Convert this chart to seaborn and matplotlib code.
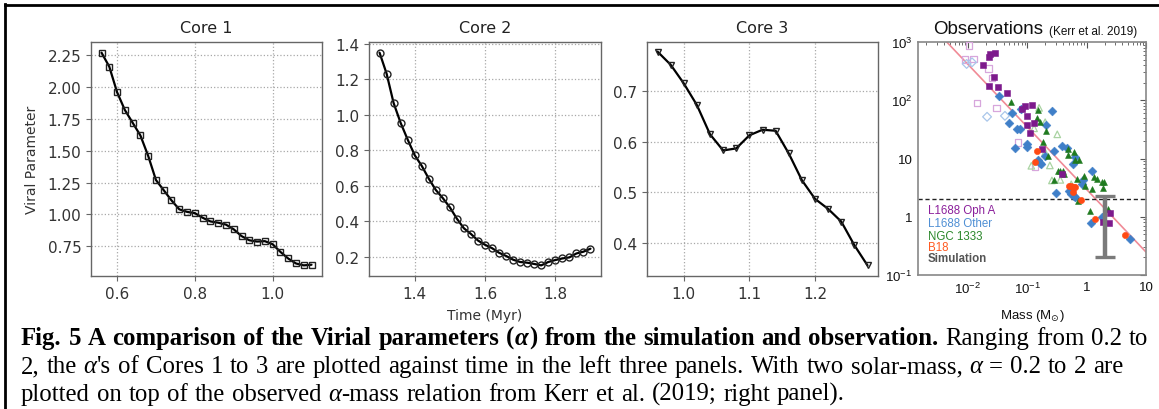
import re
import numpy as np
import pandas as pd
import matplotlib
matplotlib.use("Agg")
import matplotlib.pyplot as plt
import seaborn as sns
from matplotlib.lines import Line2D
from matplotlib.ticker import MultipleLocator, LogLocator, NullFormatter
from matplotlib.font_manager import FontProperties

# ---------------- data ----------------
core1_time = [0.56, 0.58, 0.60, 0.62, 0.64, 0.66, 0.68, 0.70, 0.72, 0.74, 0.76, 0.78, 0.80, 0.82,
              0.84, 0.86, 0.88, 0.90, 0.92, 0.94, 0.96, 0.98, 1.00, 1.02, 1.04, 1.06, 1.08, 1.10]
core1_alpha = [2.27, 2.16, 1.96, 1.82, 1.72, 1.62, 1.46, 1.27, 1.19, 1.11, 1.04, 1.02, 1.01, 0.974,
               0.945, 0.935, 0.92, 0.883, 0.83, 0.797, 0.787, 0.79, 0.766, 0.706, 0.654, 0.615, 0.60, 0.605]

core2_time = [1.30, 1.32, 1.34, 1.36, 1.38, 1.40, 1.42, 1.44, 1.46, 1.48, 1.50, 1.52, 1.54, 1.56, 1.58, 1.60,
              1.62, 1.64, 1.66, 1.68, 1.70, 1.72, 1.74, 1.76, 1.78, 1.80, 1.82, 1.84, 1.86, 1.88, 1.90]
core2_alpha = [1.35, 1.232, 1.066, 0.954, 0.86, 0.772, 0.712, 0.64, 0.576, 0.53, 0.478, 0.414, 0.36, 0.328,
               0.291, 0.267, 0.248, 0.222, 0.204, 0.183, 0.170, 0.166, 0.159, 0.151, 0.170, 0.181, 0.19,
               0.196, 0.218, 0.228, 0.245]

core3_time = [0.96, 0.98, 1.00, 1.02, 1.04, 1.06, 1.08, 1.10, 1.12, 1.14, 1.16, 1.18, 1.20, 1.22, 1.24, 1.26, 1.28]
core3_alpha = [0.779, 0.753, 0.716, 0.673, 0.615, 0.583, 0.587, 0.613, 0.624, 0.622, 0.577, 0.524, 0.487,
               0.467, 0.442, 0.395, 0.355]

core_titles = ["Core 1", "Core 2", "Core 3"]

# Kerr et al. (2019) observations
ophA_mass = [0.0233, 0.023, 0.029, 0.018, 0.028, 0.023, 0.032, 0.046, 0.082, 0.091, 0.12, 0.10, 0.097,
             0.13, 0.11, 0.18, 0.38, 2.5, 1.87, 2.4]
ophA_alpha = [622, 546, 640, 408, 248, 173, 167, 131, 71, 81, 84, 53, 38, 40, 27, 14.6, 5.4, 1.15, 0.82, 0.78]
ophA_open_mass = [0.0105, 0.009, 0.0125, 0.022, 0.0255, 0.0142, 0.030, 0.070, 0.135]
ophA_open_alpha = [865, 497, 510, 348, 241, 90, 74, 18.7, 7.2]

other_mass = [0.034, 0.056, 0.079, 0.05, 0.066, 0.074, 0.061, 0.10, 0.10, 0.153, 0.164, 0.17, 0.21, 0.265,
              0.28, 0.39, 0.46, 0.64, 0.88, 1.23, 0.31, 0.51, 0.55, 0.61, 0.64, 1.17, 1.8, 5.4, 0.20, 0.58, 0.85]
other_alpha = [117, 60, 72, 40, 32, 32, 15, 18, 15.6, 9.4, 8.3, 8, 38, 65, 13.3, 16.6, 15, 10.7, 4.3, 6.1,
               2.6, 2.8, 2.5, 2.27, 2.2, 0.77, 1.0, 0.42, 11, 8, 3.6]
other_open_mass = [0.0117, 0.0095, 0.021, 0.042]
other_open_alpha = [448, 420, 52, 54]

ngc_mass = [0.054, 0.153, 0.144, 0.164, 0.21, 0.187, 0.22, 0.33, 0.36, 0.40, 0.28, 0.48, 0.62, 0.64, 0.48,
            0.75, 0.69, 0.91, 0.94, 1.23, 1.35, 1.5, 1.82, 1.97, 1.92, 1.16, 2.27, 0.72, 0.42]
ngc_alpha = [92, 68, 50, 43, 30, 19, 11.2, 6.2, 6.2, 6.0, 4.3, 14.6, 12.8, 9.5, 11.5, 9.4, 4.4, 5.1, 3.4,
             3.0, 4.75, 4.4, 4.0, 4.0, 3.1, 1.27, 1.36, 1.9, 5.5]
ngc_open_mass = [0.117, 0.2, 0.24, 0.32, 0.36, 0.158, 0.2, 0.26, 0.55, 0.13]
ngc_open_alpha = [7.5, 12.8, 7.6, 26, 4.3, 74, 42, 4.2, 3.6, 33]

b18_mass = [0.148, 0.135, 0.50, 0.55, 0.62, 0.64, 0.59, 0.80, 1.37, 4.5]
b18_alpha = [13.6, 8.8, 3.4, 3.4, 3.2, 3.3, 2.7, 1.96, 0.91, 0.49]

sim_mass = 2.0
sim_alpha_low, sim_alpha_high = 0.2, 2.3

fit_norm, fit_slope = 2.94, -1.074   # alpha = norm * M^slope
alpha_crit = 2.0

group_labels = ["L1688 Oph A", "L1688 Other", "NGC 1333", "B18", "Simulation"]
mass_ticks = [0.01, 0.1, 1, 10]
mass_ticklabels = [r"$\mathregular{10^{-2}}$", r"$\mathregular{10^{-1}}$", "1", "10"]
alpha_ticks = [0.1, 1, 10, 100, 1000]
alpha_ticklabels = [r"$\mathregular{10^{-1}}$", "1", "10", r"$\mathregular{10^{2}}$", r"$\mathregular{10^{3}}$"]

# ---------------- figure ----------------
sns.set_theme(style="white")
plt.rcParams["font.family"] = ["DejaVu Sans"]
W, H = 1159, 410
fig = plt.figure(figsize=(W / 100, H / 100), dpi=100)
fig.patch.set_facecolor("white")


def rect(l, r, t, b):
    return [l / W, 1 - b / H, (r - l) / W, (b - t) / H]


ax1 = fig.add_axes(rect(91, 322, 43, 277))
ax2 = fig.add_axes(rect(369, 601, 43, 277))
ax3 = fig.add_axes(rect(647, 878, 43, 277))
ax4 = fig.add_axes(rect(918, 1146, 43, 276))

panels = [
    (ax1, core1_time, core1_alpha, "s", 0.2, 0.25),
    (ax2, core2_time, core2_alpha, "o", 0.2, 0.2),
    (ax3, core3_time, core3_alpha, "v", 0.1, 0.1),
]
spine_c = "#666666"
for (ax, t, a, mk, xstep, ystep), title in zip(panels, core_titles):
    sns.lineplot(x=t, y=a, ax=ax, color="black", lw=1.6, sort=False, estimator=None,
                 marker=mk, markersize=5, markerfacecolor="none",
                 markeredgecolor="#222222", markeredgewidth=1.0)
    ax.xaxis.set_major_locator(MultipleLocator(xstep))
    ax.yaxis.set_major_locator(MultipleLocator(ystep))
    ax.grid(True, ls=":", color="#a8a8a8", lw=0.9)
    for s in ax.spines.values():
        s.set_color(spine_c)
        s.set_linewidth(1.0)
    ax.tick_params(direction="out", length=3.5, width=0.8, color=spine_c,
                   labelsize=11, labelcolor="#333333", bottom=True, left=True)
    ax.set_title(title, fontsize=11.5, color="#222222", pad=7)
    ax.set_facecolor("white")

ax3.set_ylim(0.334, 0.798)
ax1.yaxis.set_major_formatter(matplotlib.ticker.FormatStrFormatter("%.2f"))
ax1.set_ylabel("Viral Parameter", fontsize=10, color="#333333", labelpad=6)
ax2.set_xlabel("Time (Myr)", fontsize=10, color="#333333", labelpad=5)

# ---------------- observation panel ----------------
purple, blue, green, orange = "#7d1a8c", "#3f7fc8", "#1f7a1f", "#ff4a14"
purple_l, blue_l, green_l = "#d7a6dc", "#a9c6ea", "#a9d3a2"

ax4.set_xscale("log")
ax4.set_yscale("log")
ax4.set_xlim(0.00144, 10)
ax4.set_ylim(0.1, 1000)

xfit = np.array(ax4.get_xlim())
sns.lineplot(x=xfit, y=fit_norm * xfit ** fit_slope, ax=ax4, color="#f08a96", lw=1.2, zorder=1)
ax4.axhline(alpha_crit, ls=(0, (3, 2)), color="#222222", lw=1.0, zorder=1)

def scat(mx, ay, marker, col, open_=False, s=20):
    if open_:
        sns.scatterplot(x=mx, y=ay, ax=ax4, marker=marker, color=col, facecolor="none",
                        edgecolor=col, linewidth=0.9, s=s, zorder=3)
    else:
        sns.scatterplot(x=mx, y=ay, ax=ax4, marker=marker, color=col, edgecolor=col,
                        linewidth=0.4, s=s, zorder=3)

scat(ophA_open_mass, ophA_open_alpha, "s", purple_l, True, 22)
scat(other_open_mass, other_open_alpha, "D", blue_l, True, 20)
scat(ngc_open_mass, ngc_open_alpha, "^", green_l, True, 22)
scat(other_mass, other_alpha, "D", blue, False, 20)
scat(ngc_mass, ngc_alpha, "^", green, False, 18)
scat(ophA_mass, ophA_alpha, "s", purple, False, 22)
scat(b18_mass, b18_alpha, "o", orange, False, 20)

ax4.errorbar([sim_mass], [sim_alpha_low], yerr=[[0], [sim_alpha_high - sim_alpha_low]],
             fmt="none", ecolor="#7a7a7a", elinewidth=3.2, capsize=7, capthick=2.4, zorder=4)

ax4.set_xticks(mass_ticks)
ax4.set_xticklabels(mass_ticklabels)
ax4.set_yticks(alpha_ticks)
ax4.set_yticklabels(alpha_ticklabels)
ax4.xaxis.set_minor_locator(LogLocator(base=10, subs=np.arange(2, 10)))
ax4.yaxis.set_minor_locator(LogLocator(base=10, subs=np.arange(2, 10)))
ax4.xaxis.set_minor_formatter(NullFormatter())
ax4.yaxis.set_minor_formatter(NullFormatter())
ax4.tick_params(which="both", direction="in", top=True, right=True, color="#555555",
                labelsize=9.5, labelcolor="#111111")
ax4.tick_params(which="major", length=4, width=0.8, pad=4)
ax4.tick_params(which="minor", length=2, width=0.6)
for lab in ax4.get_xticklabels() + ax4.get_yticklabels():
    lab.set_fontfamily(["Liberation Sans", "DejaVu Sans"])
for s in ax4.spines.values():
    s.set_color("#888888")
    s.set_linewidth(1.2)
ax4.set_xlabel(r"Mass (M$_{\odot}$)", fontsize=9.5, family=["Liberation Sans", "DejaVu Sans"],
               color="#111111", labelpad=8)
ax4.set_facecolor("white")

renderer = fig.canvas.get_renderer()
t_obs = fig.text(933 / W, 1 - 34.5 / H, "Observations", fontsize=13.5,
                 family=["Liberation Sans", "DejaVu Sans"], color="#111111", va="baseline", ha="left")
bb = t_obs.get_window_extent(renderer)
fig.text((bb.x1 + 6) / W, 1 - 34.5 / H, "(Kerr et al. 2019)", fontsize=8.5,
         family=["Liberation Sans", "DejaVu Sans"], color="#111111", va="baseline", ha="left")

label_colors = ["#8b1f9b", "#4f8fd4", "#2a872a", "#ff5a22", "#555555"]
label_y = [211, 224, 237, 248, 259]
for lab, col, yy in zip(group_labels, label_colors, label_y):
    fig.text(928 / W, 1 - yy / H, lab, fontsize=8.3, color=col, va="center", ha="left",
             family=["Liberation Sans", "DejaVu Sans"],
             weight="bold" if lab == "Simulation" else "normal")

# ---------------- frame ----------------
fig.add_artist(Line2D([4.5 / W, 4.5 / W], [0, 1 - 4.5 / H], transform=fig.transFigure,
                      color="black", lw=2.0, solid_capstyle="projecting"))
fig.add_artist(Line2D([4.5 / W, 1], [1 - 5.5 / H, 1 - 5.5 / H], transform=fig.transFigure,
                      color="black", lw=2.0, solid_capstyle="projecting"))

# ---------------- caption ----------------
SERIF = "Liberation Serif"
cap_lines = [
    [("Fig. 5 A comparison of the Virial parameters (", "bold", "normal"), ("α", "bold", "italic"),
     (") from the simulation and observation.", "bold", "normal"), (" Ranging from 0.2 to", "normal", "normal")],
    [("2, the ", "normal", "normal"), ("α", "normal", "italic"),
     ("'s of Cores 1 to 3 are plotted against time in the left three panels. With two solar-mass, ",
      "normal", "normal"), ("α", "normal", "italic"), (" = 0.2 to 2 are", "normal", "normal")],
    [("plotted on top of the observed ", "normal", "normal"), ("α", "normal", "italic"),
     ("-mass relation from Kerr et al. (2019; right panel).", "normal", "normal")],
]
cap_baselines = [345, 373, 401]


def fp_of(weight, style, size):
    return FontProperties(family=SERIF, weight=weight, style=style, size=size)


def tw(s, fp):
    w, h, d = renderer.get_text_width_height_descent(s, fp, ismath=False)
    return w


def layout(line, size, y=None, x0=21.0):
    x = x0
    for text, weight, style in line:
        fp = fp_of(weight, style, size)
        sp = tw("a a", fp) - tw("aa", fp)
        for piece in re.split("( )", text):
            if piece == " ":
                x += sp
            elif piece:
                if y is not None:
                    fig.text(x / W, 1 - y / H, piece, fontproperties=fp, color="black",
                             va="baseline", ha="left")
                x += tw(piece, fp) + 0.4 * size / 12
    return x - x0


base = 16.0
w1 = layout(cap_lines[0], base)
cap_size = base * 1132.0 / w1
for line, yb in zip(cap_lines, cap_baselines):
    layout(line, cap_size, yb)

fig.savefig("out.png", dpi=100, facecolor="white")
